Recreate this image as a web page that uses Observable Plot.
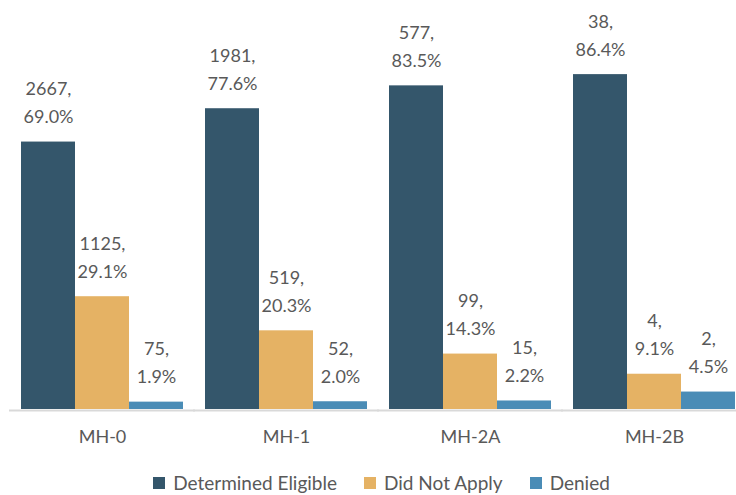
<!DOCTYPE html>
<html><head><meta charset="utf-8">
<script src="https://cdn.jsdelivr.net/npm/d3@7"></script>
<script src="https://cdn.jsdelivr.net/npm/@observablehq/plot@0.6"></script>
<style>
body{margin:0;background:#fff;font-family:Lato,sans-serif;}
#chart{width:736px;height:495px;overflow:hidden;position:relative;background:#fff}
#chart svg{display:block}
.lgwrap{display:flex;justify-content:center;height:25px;overflow:visible;padding-left:27px;margin-top:-4px}
.lg-swatch{margin-right:27px !important}
.lg-swatch:last-child{margin-right:0 !important}
.lg-swatch > svg{margin-right:8px !important}
</style></head><body><div id="chart"></div>
<script>
const groups = ["MH-0", "MH-1", "MH-2A", "MH-2B"];
const series = ["Determined Eligible", "Did Not Apply", "Denied"];
const colors = ["#34566b", "#e5b264", "#4a8cb6"];
const eligibleCount = [2667, 1981, 577, 38];
const eligiblePct = [69.0, 77.6, 83.5, 86.4];
const notApplyCount = [1125, 519, 99, 4];
const notApplyPct = [29.1, 20.3, 14.3, 9.1];
const deniedCount = [75, 52, 15, 2];
const deniedPct = [1.9, 2.0, 2.2, 4.5];

const counts = [eligibleCount, notApplyCount, deniedCount];
const pcts = [eligiblePct, notApplyPct, deniedPct];
const rows = [];
groups.forEach((g, i) => series.forEach((s, j) => rows.push({group: g, series: s, count: counts[j][i], pct: pcts[j][i]})));

const chart = Plot.plot({
  width: 736, height: 470,
  marginTop: 9, marginBottom: 61, marginLeft: 20, marginRight: 0,
  style: {fontFamily: "Lato, sans-serif", fontSize: "18px", color: "#595959", background: "#fff", overflow: "visible"},
  fx: {domain: groups, paddingInner: 0.1175, paddingOuter: 0, label: null, axis: "bottom", tickSize: 0, tickPadding: 21},
  x: {domain: series, padding: 0, axis: null},
  y: {domain: [0, 103.2], axis: null},
  color: {domain: series, range: colors},
  marks: [
    Plot.barY(rows, {fx: "group", x: "series", y: "pct", fill: "series"}),
    Plot.ruleY([0], {stroke: "#d9d9d9", strokeWidth: 2, dy: 1, insetLeft: -12, insetRight: -12}),
    Plot.text(rows, {fx: "group", x: "series", y: "pct", text: d => `${d.count},\n${d.pct.toFixed(1)}%`, lineAnchor: "bottom", lineHeight: 1.55, dy: -19, fill: "#595959", fontSize: 18})
  ]
});
const el = document.getElementById("chart");
el.appendChild(chart);
const legend = Plot.legend({color: {domain: series, range: colors}, legend: "swatches", swatchSize: 12, className: "lg", style: {fontSize: "19px", fontFamily: "Lato, sans-serif", color: "#595959"}});
const wrap = document.createElement("div");
wrap.className = "lgwrap";
wrap.appendChild(legend);
el.appendChild(wrap);
</script></body></html>
